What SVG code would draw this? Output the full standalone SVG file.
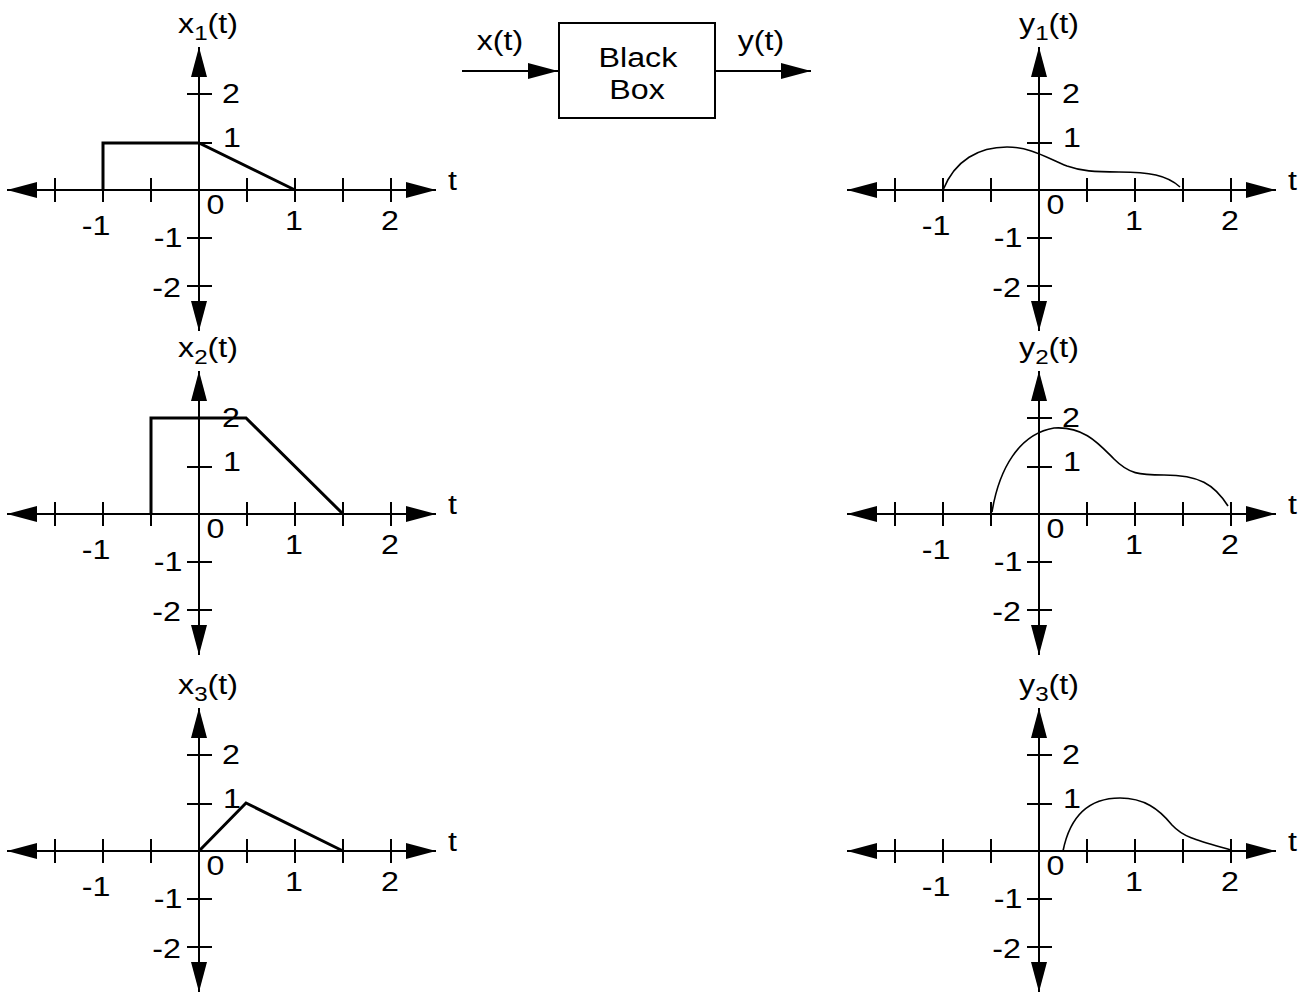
<svg xmlns="http://www.w3.org/2000/svg" xmlns:xlink="http://www.w3.org/1999/xlink" width="1304" height="994" viewBox="0 0 1304 994">
  <style>
    text { font-family: "Liberation Sans", Arial, Helvetica, sans-serif; font-size: 28px; fill: #000; text-anchor: middle; }
    .w { transform-box: fill-box; transform-origin: center; transform: scaleX(1.15); }
    .sub { font-size: 21px; }
    .axis { stroke: #000; stroke-width: 2; fill: none; }
    .tick { stroke: #000; stroke-width: 2; fill: none; }
    .sig { stroke: #000; stroke-width: 3; fill: none; stroke-linejoin: miter; }
    .curve { stroke: #000; stroke-width: 1.6; fill: none; }
    .box { stroke: #000; stroke-width: 2; fill: #fff; }
    .wire { stroke: #000; stroke-width: 2; fill: none; }
  </style>
  <defs>
    <marker id="head" viewBox="-30 -8 30 16" refX="0" refY="0" markerWidth="30" markerHeight="16" markerUnits="userSpaceOnUse" orient="auto-start-reverse">
      <path d="M0,0 L-30,-8 L-30,8 Z" fill="#000"/>
    </marker>
    <!-- shared coordinate frame: origin at the axis crossing, 96 px per unit on t, 48 px per unit on the value axis -->
    <g id="frame">
      <line class="axis" x1="-192" y1="0" x2="237" y2="0" marker-start="url(#head)" marker-end="url(#head)"/>
      <line class="axis" x1="0" y1="141" x2="0" y2="-143" marker-start="url(#head)" marker-end="url(#head)"/>
      <path class="tick" d="M-144,-12V12 M-96,-12V12 M-48,-12V12 M0,-12V12 M48,-12V12 M96,-12V12 M144,-12V12 M192,-12V12"/>
      <path class="tick" d="M-12,-96H13 M-12,-47H13 M-12,48H13 M-12,96H13"/>
      <text class="w" x="-103" y="45">-1</text>
      <text class="w" x="16.5" y="24">0</text>
      <text class="w" x="95" y="40">1</text>
      <text class="w" x="191" y="40">2</text>
      <text class="w" x="32" y="-87">2</text>
      <text class="w" x="33" y="-43">1</text>
      <text class="w" x="-31" y="57">-1</text>
      <text class="w" x="-32.5" y="107">-2</text>
      <text class="w" x="253.5" y="0">t</text>
    </g>
  </defs>

  <!-- input signals -->
  <g id="plot-x1" transform="translate(199,190)">
    <use href="#frame"/>
    <text class="w" x="9" y="-157">x<tspan class="sub" dy="7">1</tspan><tspan dy="-7">(t)</tspan></text>
    <path class="sig" d="M-96,0 V-47 H0 L96,0"/>
  </g>
  <g id="plot-x2" transform="translate(199,514)">
    <use href="#frame"/>
    <text class="w" x="9" y="-157">x<tspan class="sub" dy="7">2</tspan><tspan dy="-7">(t)</tspan></text>
    <path class="sig" d="M-48,0 V-96 H47 L144,0"/>
  </g>
  <g id="plot-x3" transform="translate(199,851)">
    <use href="#frame"/>
    <text class="w" x="9" y="-157">x<tspan class="sub" dy="7">3</tspan><tspan dy="-7">(t)</tspan></text>
    <path class="sig" d="M0,0 L47,-48 L144,0"/>
  </g>

  <!-- system block -->
  <g id="black-box">
    <rect class="box" x="559" y="23" width="156" height="95"/>
    <text class="w" x="638" y="67">Black</text>
    <text class="w" x="637" y="99">Box</text>
  </g>

  <!-- output signals -->
  <g id="plot-y1" transform="translate(1039,190)">
    <use href="#frame"/>
    <text class="w" x="10" y="-157">y<tspan class="sub" dy="7">1</tspan><tspan dy="-7">(t)</tspan></text>
    <path class="curve" d="M-96,0 C-84,-30 -60,-43 -32,-43 C-8,-43 8,-32 28,-24 C42,-19 55,-18 80,-18 C110,-18 128,-15 141,-3"/>
  </g>
  <g id="plot-y2" transform="translate(1039,514)">
    <use href="#frame"/>
    <text class="w" x="10" y="-157">y<tspan class="sub" dy="7">2</tspan><tspan dy="-7">(t)</tspan></text>
    <path class="curve" d="M-47,-2 C-40,-45 -20,-80 15,-86 C45,-88 60,-70 75,-55 C90,-40 100,-39 125,-39 C160,-39 175,-30 189,-8"/>
  </g>
  <g id="plot-y3" transform="translate(1039,851)">
    <use href="#frame"/>
    <text class="w" x="10" y="-157">y<tspan class="sub" dy="7">3</tspan><tspan dy="-7">(t)</tspan></text>
    <path class="curve" d="M24,0 C32,-40 55,-53 81,-53 C105,-53 120,-42 133,-26 C145,-13 160,-10 192,-1"/>
  </g>

  <!-- signal flow through the block -->
  <g id="connectors">
    <line class="wire" x1="462" y1="71" x2="558" y2="71" marker-end="url(#head)"/>
    <text class="w" x="500" y="50">x(t)</text>
    <line class="wire" x1="715" y1="71" x2="811" y2="71" marker-end="url(#head)"/>
    <text class="w" x="761" y="50">y(t)</text>
  </g>
</svg>
